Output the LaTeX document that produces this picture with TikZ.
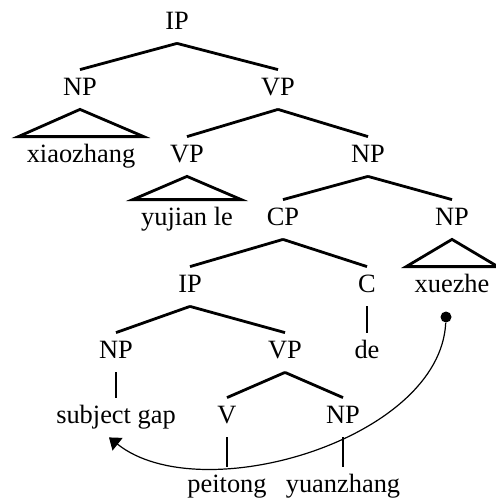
\documentclass[tikz,border=0pt]{standalone}
\usepackage{fontspec}
\setmainfont{Liberation Serif}
\usetikzlibrary{arrows.meta}

\begin{document}
\begin{tikzpicture}[x=0.5pt,y=-0.5pt,font=\fontsize{13.2}{15}\selectfont,
    branch/.style={line width=1.4pt},
    movement/.style={line width=0.6pt,-{Triangle[width=8pt,length=5.5pt]}}]
\useasboundingbox (0,0) rectangle (496,498);
\begin{scope}[every node/.style={anchor=base,text height=9pt,text depth=3.5pt,inner ysep=3.5pt,inner xsep=4pt}]
    \node (ip) at (177,29) {IP};
    \node (np) at (80,95) {NP};
    \node (vp) at (278,95) {VP};
    \node (xz) at (81,162) {xiaozhang};
    \node (vp2) at (187,162) {VP};
    \node (np2) at (368,162) {NP};
    \node (yl) at (187,225) {yujian le};
    \node (cp) at (283,225) {CP};
    \node (np3) at (452,225) {NP};
    \node (ip2) at (190,292) {IP};
    \node (c) at (367,292) {C};
    \node (xue) at (452,292) {xuezhe};
    \node (np4) at (116,358) {NP};
    \node (vp3) at (285,358) {VP};
    \node (de) at (367,358) {de};
    \node (gap) at (116,423) {subject gap};
    \node (v) at (227,423) {V};
    \node (np5) at (343,423) {NP};
    \node (pt) at (227,492) {peitong};
    \node (yz) at (343,492) {yuanzhang};
\end{scope}
\node[circle,fill,inner sep=0pt,minimum size=5.5pt] (dot) at (446,317) {};

\draw[branch] (ip.south) -- (np.north);
\draw[branch] (ip.south) -- (vp.north);
\draw[branch] (np.south) -- (xz.north west) -- (xz.north east) -- cycle;
\draw[branch] (vp.south) -- (vp2.north);
\draw[branch] (vp.south) -- (np2.north);
\draw[branch] (vp2.south) -- (yl.north west) -- (yl.north east) -- cycle;
\draw[branch] (np2.south) -- (cp.north);
\draw[branch] (np2.south) -- (np3.north);
\draw[branch] (np3.south) -- (xue.north west) -- (xue.north east) -- cycle;
\draw[branch] (cp.south) -- (ip2.north);
\draw[branch] (cp.south) -- (c.north);
\draw[branch] (c.south) -- (de.north);
\draw[branch] (ip2.south) -- (np4.north);
\draw[branch] (ip2.south) -- (vp3.north);
\draw[branch] (np4.south) -- (gap.north);
\draw[branch] (vp3.south) -- (v.north);
\draw[branch] (vp3.south) -- (np5.north);
\draw[branch] (v.south) -- (pt.north);
\draw[branch] (np5.south) -- (yz.north);

% the moved object back to its gap
\draw[movement] (dot) .. controls (440,440) and (200,510) .. ([xshift=-3.5pt]gap.south);
\end{tikzpicture}
\end{document}
